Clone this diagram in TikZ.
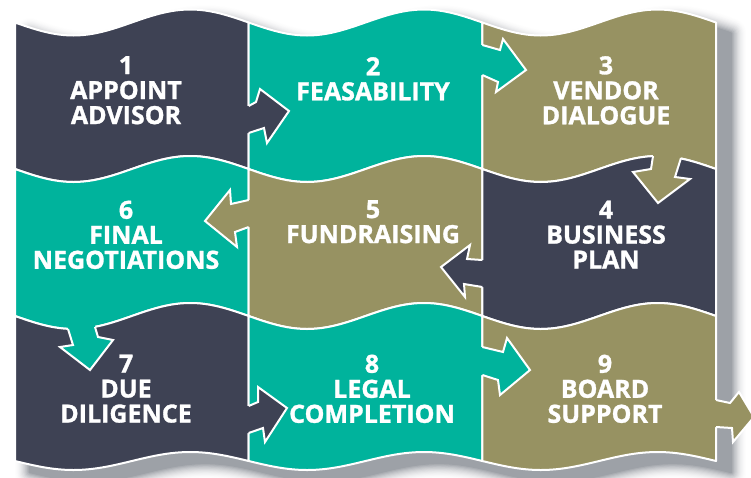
\documentclass[tikz,border=0pt]{standalone}
\usepackage{fontspec}
\setmainfont{Open Sans}[BoldFeatures={FakeBold=1.2}]
\definecolor{cSlate}{RGB}{62,66,84}
\definecolor{cTeal}{RGB}{0,179,156}
\definecolor{cOlive}{RGB}{151,146,98}
\definecolor{cShadow}{RGB}{150,154,161}
% one wavy cell: #1 left x, #2 right x, #3 top line, #4 bottom line, #5 bottom amplitude
\newcommand{\cellpath}[5]{%
  plot[domain=#1:#2,samples=49,variable=\xx] (\xx,{#3+13*sin(((\xx-#1)/(#2-#1))*360)})
  -- plot[domain=#2:#1,samples=49,variable=\xx] (\xx,{#4+#5*sin(((\xx-#1)/(#2-#1))*360)}) -- cycle}
% outline of the whole board, used for the drop shadow
\newcommand{\boardpath}{%
  plot[domain=15:716,samples=150,variable=\xx] (\xx,{22.5+13*sin(((\xx-15)/233.667)*360)})
  -- plot[domain=716:15,samples=150,variable=\xx] (\xx,{461+9*sin(((\xx-15)/233.667)*360)}) -- cycle}
\tikzset{
  cell/.style={draw=white,line width=2pt,line join=round},
  arrowline/.style={draw=white,line width=2pt,line join=miter},
  lbl/.style={text=white,font=\fontsize{25}{25}\selectfont\bfseries,align=center,inner sep=0pt,anchor=north}
}
\begin{document}
\begin{tikzpicture}[x=1pt,y=-1pt]
\useasboundingbox (0,0) rectangle (751,477);
\fill[white] (0,0) rectangle (751,477);

% soft drop shadow, built from opaque rings (outer = lightest)
\foreach \i in {14,13,...,1}{
  \pgfmathsetmacro\pct{100*(1-(\i-0.5)/14.5)*(1-(\i-0.5)/14.5)}
  \filldraw[draw=cShadow!\pct!white,fill=cShadow!\pct!white,line width=\i*2.3pt,line join=round,shift={(15,11)}] \boardpath;
}

% row 1
\filldraw[cell,fill=cSlate] \cellpath{15}{248.667}{22.5}{169}{13};
\filldraw[cell,fill=cTeal]  \cellpath{248.667}{482.333}{22.5}{169}{13};
\filldraw[cell,fill=cOlive] \cellpath{482.333}{716}{22.5}{169}{13};
% row 2
\filldraw[cell,fill=cTeal]  \cellpath{15}{248.667}{169}{316}{13};
\filldraw[cell,fill=cOlive] \cellpath{248.667}{482.333}{169}{316}{13};
\filldraw[cell,fill=cSlate] \cellpath{482.333}{716}{169}{316}{13};
% row 3
\filldraw[cell,fill=cSlate] \cellpath{15}{248.667}{316}{461}{9};
\filldraw[cell,fill=cTeal]  \cellpath{248.667}{482.333}{316}{461}{9};
\filldraw[cell,fill=cOlive] \cellpath{482.333}{716}{316}{461}{9};

% 1 -> 2
\fill[cSlate] (244,106) -- (248.667,106) -- (256,102) -- (260,89) -- (289,111) -- (267,143) -- (264,128) -- (248.667,133) -- (244,133) -- cycle;
\draw[arrowline] (248.667,106) -- (256,102) -- (260,89) -- (289,111) -- (267,143) -- (264,128) -- (248.667,133);
% 2 -> 3
\fill[cTeal] (478,45) -- (482.333,45) -- (500,50) -- (503,39) -- (526,70) -- (496,92) -- (498,82) -- (482.333,75) -- (478,75) -- cycle;
\draw[arrowline] (482.333,45) -- (500,50) -- (503,39) -- (526,70) -- (496,92) -- (498,82) -- (482.333,75);
% 3 -> 4
\fill[cOlive] (653,148) -- (653,156) -- (651,169) -- (633,172) -- (658,203) -- (690,179) -- (675,177) -- (681,158) -- (681,150) -- cycle;
\draw[arrowline] (653,156) -- (651,169) -- (633,172) -- (658,203) -- (690,179) -- (675,177) -- (681,158);
% 4 -> 5
\fill[cSlate] (487,260) -- (482.333,260) -- (467,259) -- (470,245) -- (441,267) -- (465,297) -- (464,284) -- (482.333,287) -- (487,287) -- cycle;
\draw[arrowline] (482.333,260) -- (467,259) -- (470,245) -- (441,267) -- (465,297) -- (464,284) -- (482.333,287);
% 5 -> 6
\fill[cOlive] (253,200) -- (248.667,200) -- (231,204) -- (230,190) -- (205,221) -- (237,247) -- (235,232) -- (248.667,227) -- (253,227) -- cycle;
\draw[arrowline] (248.667,200) -- (231,204) -- (230,190) -- (205,221) -- (237,247) -- (235,232) -- (248.667,227);
% 6 -> 7
\fill[cTeal] (68,321) -- (68,329) -- (73,345) -- (60,347) -- (90,370) -- (113,340) -- (98,337) -- (95,327) -- (95,319) -- cycle;
\draw[arrowline] (68,329) -- (73,345) -- (60,347) -- (90,370) -- (113,340) -- (98,337) -- (95,327);
% 7 -> 8
\fill[cSlate] (244,406) -- (248.667,406) -- (258,402) -- (258,387) -- (287,408) -- (265,442) -- (263,428) -- (248.667,433) -- (244,433) -- cycle;
\draw[arrowline] (248.667,406) -- (258,402) -- (258,387) -- (287,408) -- (265,442) -- (263,428) -- (248.667,433);
% 8 -> 9
\fill[cTeal] (478,347) -- (482.333,347) -- (503,352) -- (507,338) -- (530,370) -- (500,395) -- (498,380) -- (482.333,375) -- (478,375) -- cycle;
\draw[arrowline] (482.333,347) -- (503,352) -- (507,338) -- (530,370) -- (500,395) -- (498,380) -- (482.333,375);
% 9 -> onwards
\fill[cOlive] (711,400) -- (716,400) -- (730,403) -- (739,392) -- (754,417) -- (733,442) -- (732,428) -- (716,427) -- (711,427) -- cycle;
\draw[arrowline] (716,400) -- (730,403) -- (739,392) -- (754,417) -- (733,442) -- (732,428) -- (716,427);

% step labels
\node[lbl] (t1) at (126,56) {1\\APPOINT\\ADVISOR};
\node[lbl] (t2) at (373,57) {2\\FEASABILITY};
\node[lbl] (t3) at (606,56) {3\\VENDOR\\DIALOGUE};
\node[lbl] (t6) at (126,200.5) {6\\FINAL\\NEGOTIATIONS};
\node[lbl] (t5) at (373,200) {5\\FUNDRAISING};
\node[lbl] (t4) at (606,200.5) {4\\BUSINESS\\PLAN};
\node[lbl] (t7) at (126,354.5) {7\\DUE\\DILIGENCE};
\node[lbl] (t8) at (372,354.5) {8\\LEGAL\\COMPLETION};
\node[lbl] (t9) at (605,354.5) {9\\BOARD\\SUPPORT};
\end{tikzpicture}
\end{document}
